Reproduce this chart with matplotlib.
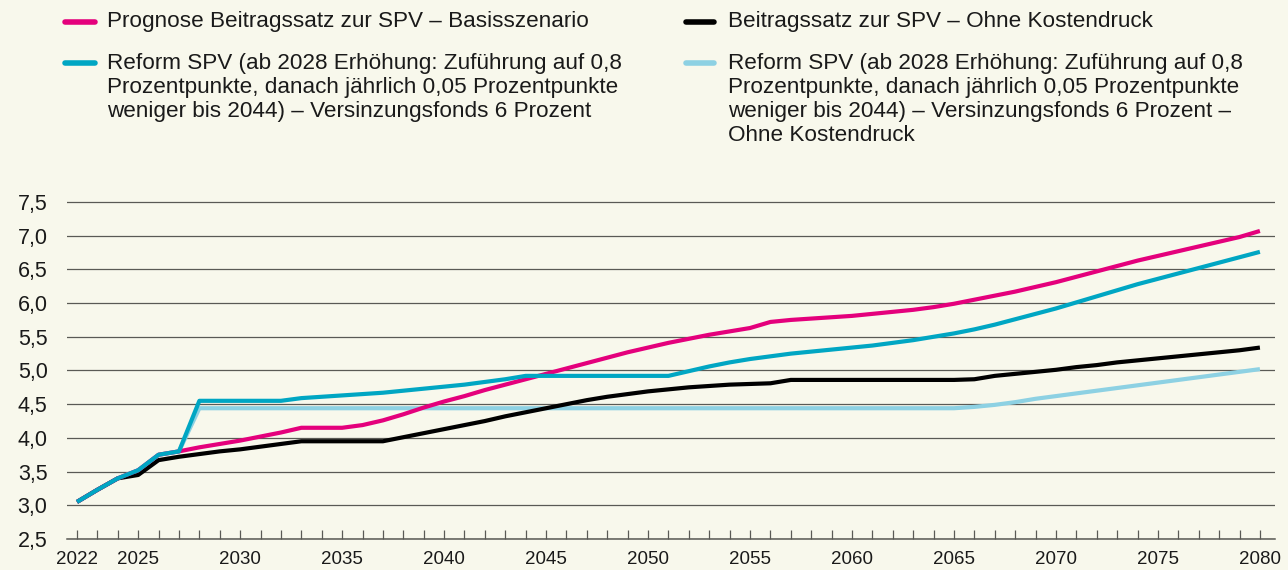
import matplotlib
matplotlib.use('Agg')
import matplotlib.pyplot as plt
from matplotlib.lines import Line2D
from matplotlib.ticker import FixedLocator, FuncFormatter

plt.rcParams['font.family'] = ['Liberation Sans', 'DejaVu Sans']

# data
years = list(range(2022, 2081))

basis = [3.05, 3.23, 3.40, 3.52, 3.75, 3.80, 3.86, 3.91, 3.96, 4.02,   # 2022-2031
         4.08, 4.15, 4.15, 4.15, 4.19, 4.26, 4.35, 4.45, 4.54, 4.62,   # 2032-2041
         4.71, 4.79, 4.87, 4.95, 5.03, 5.11, 5.19, 5.27, 5.34, 5.41,   # 2042-2051
         5.47, 5.53, 5.58, 5.63, 5.72, 5.75, 5.77, 5.79, 5.81, 5.84,   # 2052-2061
         5.87, 5.90, 5.94, 5.99, 6.05, 6.11, 6.17, 6.24, 6.31, 6.39,   # 2062-2071
         6.47, 6.55, 6.63, 6.70, 6.77, 6.84, 6.91, 6.98, 7.07]         # 2072-2080

ohne_kosten = [3.05, 3.23, 3.40, 3.45, 3.67, 3.72, 3.76, 3.80, 3.83, 3.87,
               3.91, 3.95, 3.95, 3.95, 3.95, 3.95, 4.01, 4.07, 4.13, 4.19,
               4.25, 4.32, 4.38, 4.44, 4.50, 4.56, 4.61, 4.65, 4.69, 4.72,
               4.75, 4.77, 4.79, 4.80, 4.81, 4.86, 4.86, 4.86, 4.86, 4.86,
               4.86, 4.86, 4.86, 4.86, 4.87, 4.92, 4.95, 4.98, 5.01, 5.05,
               5.08, 5.12, 5.15, 5.18, 5.21, 5.24, 5.27, 5.30, 5.34]

reform = [3.05, 3.23, 3.40, 3.52, 3.75, 3.80, 4.55, 4.55, 4.55, 4.55,
          4.55, 4.59, 4.61, 4.63, 4.65, 4.67, 4.70, 4.73, 4.76, 4.79,
          4.83, 4.87, 4.92, 4.92, 4.92, 4.92, 4.92, 4.92, 4.92, 4.92,
          4.99, 5.06, 5.12, 5.17, 5.21, 5.25, 5.28, 5.31, 5.34, 5.37,
          5.41, 5.45, 5.50, 5.55, 5.61, 5.68, 5.76, 5.84, 5.92, 6.01,
          6.10, 6.19, 6.28, 6.36, 6.44, 6.52, 6.60, 6.68, 6.76]

reform_ohne = [3.05, 3.23, 3.40, 3.52, 3.75, 3.80, 4.44, 4.44, 4.44, 4.44,
               4.44, 4.44, 4.44, 4.44, 4.44, 4.44, 4.44, 4.44, 4.44, 4.44,
               4.44, 4.44, 4.44, 4.44, 4.44, 4.44, 4.44, 4.44, 4.44, 4.44,
               4.44, 4.44, 4.44, 4.44, 4.44, 4.44, 4.44, 4.44, 4.44, 4.44,
               4.44, 4.44, 4.44, 4.44, 4.46, 4.49, 4.53, 4.58, 4.62, 4.66,
               4.70, 4.74, 4.78, 4.82, 4.86, 4.90, 4.94, 4.98, 5.02]

year_labels = [2022, 2025, 2030, 2035, 2040, 2045, 2050, 2055,
               2060, 2065, 2070, 2075, 2080]
y_ticks = [2.5, 3.0, 3.5, 4.0, 4.5, 5.0, 5.5, 6.0, 6.5, 7.0, 7.5]

label_basis = ['Prognose Beitragssatz zur SPV \u2013 Basisszenario']
label_ohne = ['Beitragssatz zur SPV \u2013 Ohne Kostendruck']
label_reform = ['Reform SPV (ab 2028 Erh\u00f6hung: Zuf\u00fchrung auf 0,8',
                'Prozentpunkte, danach j\u00e4hrlich 0,05 Prozentpunkte',
                'weniger bis 2044) \u2013 Versinzungsfonds 6 Prozent']
label_reform_ohne = label_reform[:2] + [
    'weniger bis 2044) \u2013 Versinzungsfonds 6 Prozent \u2013',
    'Ohne Kostendruck']

PINK = '#e4007c'
TEAL = '#00a6c3'
LIGHT = '#8dd1e3'
BLACK = '#000000'
BG = '#f8f8ec'
GRID = '#5a5a55'
TXT = '#1a1a1a'

W, H = 1288, 570
fig = plt.figure(figsize=(W / 100, H / 100), dpi=100, facecolor=BG)
ax = fig.add_axes([67 / W, 1 - 539 / H, (1275 - 67) / W, (539 - 198.6) / H])
ax.set_facecolor(BG)

ax.plot(years, reform_ohne, color=LIGHT, lw=3.0, solid_capstyle='butt', zorder=3)
ax.plot(years, ohne_kosten, color=BLACK, lw=3.0, solid_capstyle='butt', zorder=4)
ax.plot(years, basis, color=PINK, lw=3.0, solid_capstyle='butt', zorder=5)
ax.plot(years, reform, color=TEAL, lw=3.0, solid_capstyle='butt', zorder=6)

ax.set_xlim(2021.51, 2080.74)
ax.set_ylim(2.5, 7.55)

ax.xaxis.set_major_locator(FixedLocator(year_labels))
ax.xaxis.set_minor_locator(FixedLocator(years))
ax.yaxis.set_major_locator(FixedLocator(y_ticks))
ax.yaxis.set_major_formatter(FuncFormatter(lambda v, p: f'{v:.1f}'.replace('.', ',')))

ax.tick_params(axis='x', which='both', direction='in', length=6.5, width=0.9,
               color=GRID, pad=8.5, labelsize=13.5, labelcolor=TXT)
ax.tick_params(axis='y', length=0, pad=14, labelsize=15.5, labelcolor=TXT)

ax.grid(axis='y', color=GRID, lw=0.9)
ax.set_axisbelow(True)
for s in ['top', 'right', 'left']:
    ax.spines[s].set_visible(False)
ax.spines['bottom'].set_color(GRID)
ax.spines['bottom'].set_linewidth(1.1)

# legend, drawn by hand so the handle sits at the first text line
entries = [
    (PINK, label_basis, 65, 95, 107, 22),
    (TEAL, label_reform, 65, 95, 107, 63),
    (BLACK, label_ohne, 686, 714, 728, 22),
    (LIGHT, label_reform_ohne, 686, 714, 728, 63),
]
line_step = 24.3
for color, lines, hx0, hx1, tx, ty in entries:
    fig.add_artist(Line2D([hx0 / W, hx1 / W], [1 - ty / H, 1 - ty / H],
                          color=color, lw=4.0, solid_capstyle='round'))
    for i, txt in enumerate(lines):
        fig.text(tx / W, 1 - (ty + i * line_step) / H, txt, fontsize=16.2,
                 color=TXT, va='center', ha='left')

fig.savefig('out.png', dpi=100, facecolor=BG)
